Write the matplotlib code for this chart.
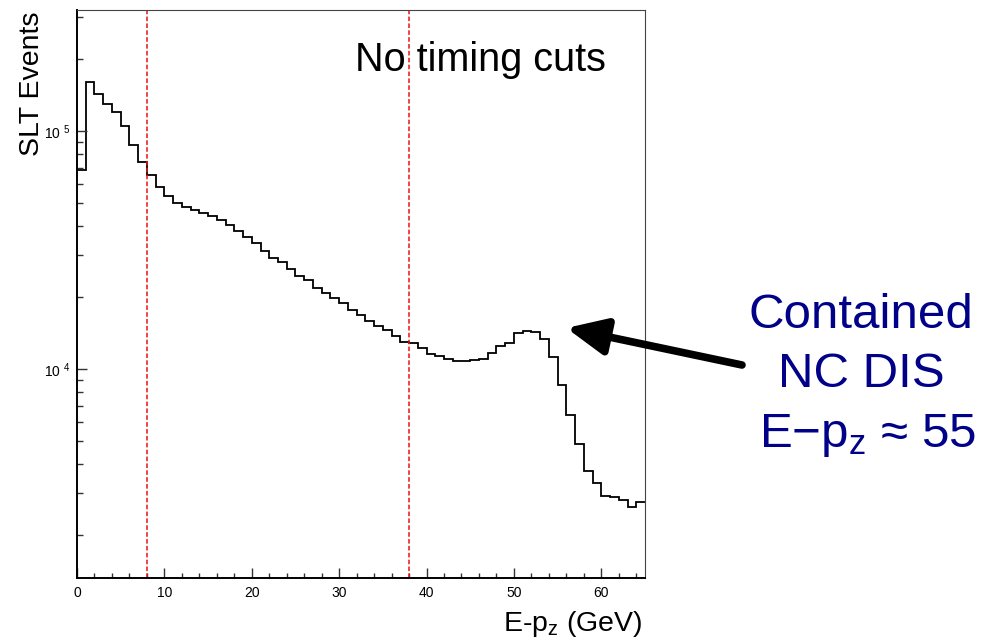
import numpy as np
import matplotlib
matplotlib.use("Agg")
import matplotlib.pyplot as plt
from matplotlib.ticker import LogLocator, NullFormatter, MultipleLocator

plt.rcParams['font.family'] = ['Liberation Sans', 'DejaVu Sans']
plt.rcParams['mathtext.fontset'] = 'custom'
plt.rcParams['mathtext.rm'] = 'Liberation Sans'
plt.rcParams['mathtext.it'] = 'Liberation Sans'

# E-pz histogram, 1 GeV bins from 0 to 65
bin_edges = np.arange(0, 66, 1)
slt_events = [
    68600, 161000, 143500, 129500, 120200, 104600, 87300, 74300, 65500, 58200,
    53300, 49700, 47800, 46600, 45400, 44100, 42300, 40300, 38000, 35800,
    33700, 31400, 29200, 28200, 26200, 24600, 23700, 21800, 20900, 19900,
    18900, 17700, 16900, 15900, 15200, 14600, 13800, 13000, 12800, 12300,
    11600, 11300, 11050, 10850, 10750, 10950, 11050, 11650, 12450, 12900,
    14200, 14500, 14300, 13400, 11200, 8570, 6380, 4850, 3720, 3330,
    2935, 2905, 2810, 2640, 2760,
]
cut_positions = [8, 38]
x_ticks = [0, 10, 20, 30, 40, 50, 60]
x_tick_labels = ['0', '10', '20', '30', '40', '50', '60']
y_ticks = [1e4, 1e5]
y_tick_labels = [r'10 $^{\mathregular{4}}$', r'10 $^{\mathregular{5}}$']
peak_label = ['Contained', 'NC DIS', r'E−p$_{\mathregular{z}}$ ≈ 55']

W, H = 987, 638
fig = plt.figure(figsize=(W / 100, H / 100), dpi=100)
ax = fig.add_axes([77 / W, 1 - 578 / H, (645 - 77) / W, (578 - 10) / H])

ax.stairs(slt_events, bin_edges, baseline=None, color='black', linewidth=1.3)

for xc in cut_positions:
    ax.axvline(xc, color='#ee1111', linestyle=(0, (3, 1.5)), linewidth=1.1)

ax.set_yscale('log')
ax.set_xlim(0, 65)
ax.set_ylim(1324, 322000)

ax.set_xticks(x_ticks, labels=x_tick_labels)
ax.xaxis.set_minor_locator(MultipleLocator(2))
ax.set_yticks(y_ticks, labels=y_tick_labels)
ax.yaxis.set_minor_locator(LogLocator(base=10, subs=np.arange(2, 10)))
ax.yaxis.set_minor_formatter(NullFormatter())

ax.tick_params(which='both', direction='in', top=False, right=False,
               color='#333333', labelsize=10)
ax.tick_params(axis='x', which='major', length=7.5, width=1, pad=6)
ax.tick_params(axis='x', which='minor', length=3.8, width=1)
ax.tick_params(axis='y', which='major', length=7.5, width=1, pad=5)
ax.tick_params(axis='y', which='minor', length=4, width=1)

for side in ['left', 'bottom']:
    ax.spines[side].set_linewidth(1.4)
for side in ['top', 'right']:
    ax.spines[side].set_linewidth(0.8)
    ax.spines[side].set_color('#444444')

ax.text((355 - 77) / 568, (578 - 71) / 568, 'No timing cuts',
        transform=ax.transAxes, fontsize=28.5, ha='left', va='baseline')

fig.text(32 / W, 1 - 12 / H, 'SLT Events', rotation=90, fontsize=20.5,
         ha='center', va='top')
fig.text(643 / W, 1 - 631 / H, r'E-p$_{\mathregular{z}}$ (GeV)', fontsize=20.5,
         ha='right', va='baseline')

# annotation arrow pointing at the NC DIS peak
ax.annotate('', xy=(56.0, 14860), xytext=(76.1, 10390),
            arrowprops=dict(arrowstyle='-|>,head_length=1.2,head_width=0.55',
                            mutation_scale=20, lw=5.5, color='black',
                            shrinkA=0, shrinkB=0),
            annotation_clip=False)

navy = '#000088'
for line, xc, yb in zip(peak_label, [861, 861, 868], [328, 387, 447]):
    fig.text(xc / W, 1 - yb / H, line, fontsize=35.5, color=navy,
             ha='center', va='baseline')

fig.savefig('out.png', dpi=100)
